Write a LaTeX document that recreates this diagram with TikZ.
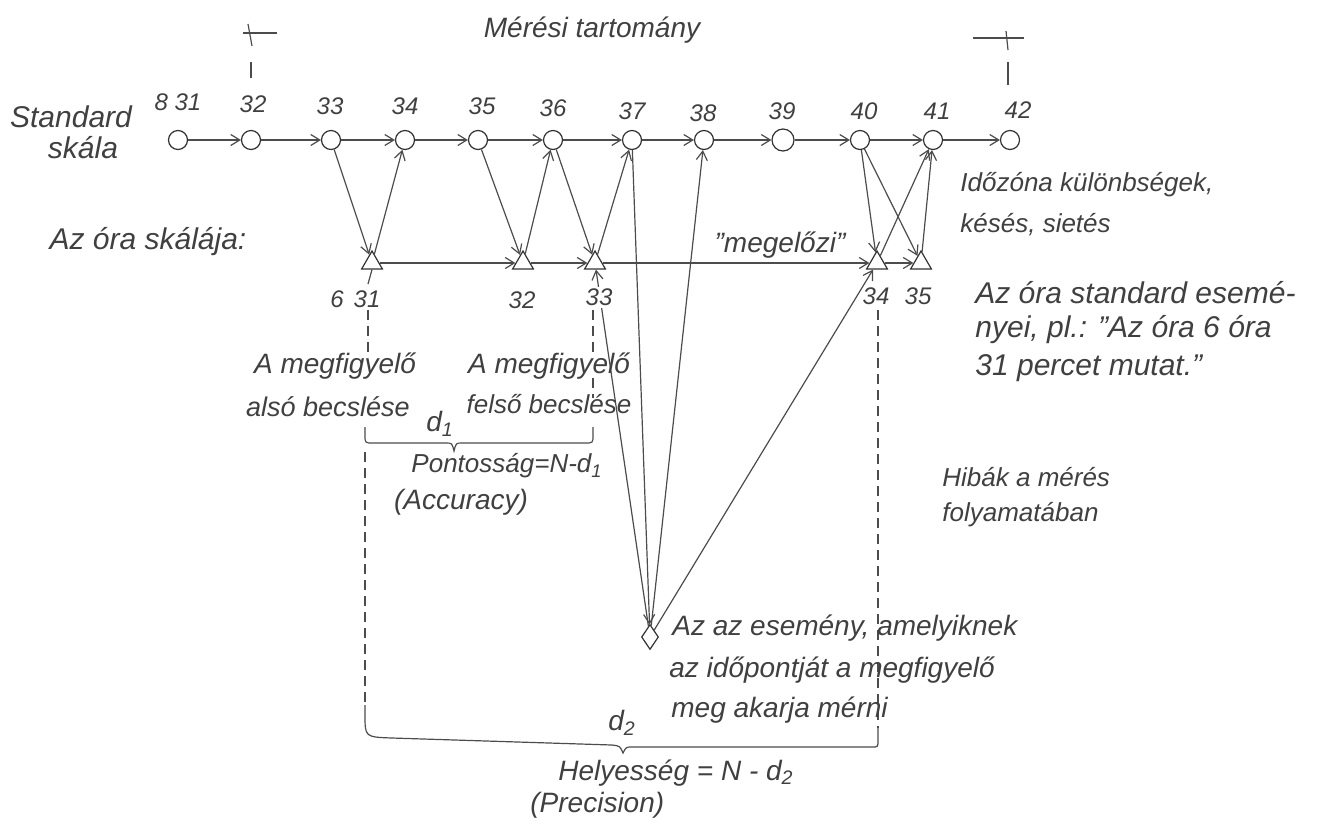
\documentclass[tikz,border=0pt]{standalone}
\usepackage{fontspec}
\setmainfont{Liberation Sans}
\usetikzlibrary{arrows.meta,shapes.geometric}
\newcommand\hsz[1]{\fontsize{#1}{#1}\selectfont}
\begin{document}
\begin{tikzpicture}[x=0.5pt,y=-0.5pt,
  ln/.style={draw=black!70, line width=0.6pt},
  arr/.style={ln, -{Straight Barb[length=4.5pt,width=5.5pt]}},
  stdnode/.style={circle, draw=black!80, line width=0.6pt, fill=white, minimum size=9.5pt, inner sep=0pt},
  clk/.style={regular polygon, regular polygon sides=3, draw=black!80, line width=0.6pt, fill=white, minimum size=12pt, inner sep=0pt},
  ev/.style={diamond, draw=black!80, line width=0.6pt, fill=white, minimum width=8.5pt, minimum height=12.5pt, inner sep=0pt},
  txt/.style={inner sep=0pt, text=black!75, font=\itshape\hsz{14pt}},
  num/.style={inner sep=0pt, text=black!75, font=\itshape\hsz{12pt}},
  dsh/.style={ln, dash pattern=on 5pt off 3pt},
]
\useasboundingbox (0,0) rectangle (1337,820);

% title and left labels
\node[txt] (title) at (592,30) {Mérési tartomány};
\node[txt, font=\itshape\hsz{15pt}] (std1) at (71,117) {Standard};
\node[txt, font=\itshape\hsz{15pt}] (std2) at (83,148) {skála};
\node[txt, font=\itshape\hsz{15pt}] (clock) at (148,242) {Az óra skálája:};

% range markers
\draw[ln] (243,33) -- (277,33);
\draw[ln] (248,24) -- (252,46);
\draw[ln] (251,62) -- (251,78);
\draw[ln] (973,38) -- (1024,38);
\draw[ln] (1006,31) -- (1008,50);
\draw[ln] (1008,62) -- (1008,85);

% standard scale
\node[stdnode] (c1) at (178,140) {};
\node[stdnode] (c2) at (251,140) {};
\node[stdnode] (c3) at (331,140) {};
\node[stdnode] (c4) at (405,140) {};
\node[stdnode] (c5) at (478,140) {};
\node[stdnode] (c6) at (553,140) {};
\node[stdnode] (c7) at (632,140) {};
\node[stdnode] (c8) at (704,140) {};
\node[stdnode, minimum size=11pt] (c9) at (783,140) {};
\node[stdnode] (c10) at (860,140) {};
\node[stdnode] (c11) at (933,140) {};
\node[stdnode] (c12) at (1010,140) {};

\node[num] (l1) at (178,102) {8 31};
\node[num] (l2) at (253,104) {32};
\node[num] (l3) at (330,106) {33};
\node[num] (l4) at (405,106) {34};
\node[num] (l5) at (482,106) {35};
\node[num] (l6) at (553,108) {36};
\node[num] (l7) at (632,111) {37};
\node[num] (l8) at (703,113) {38};
\node[num] (l9) at (782,111) {39};
\node[num] (l10) at (864,111) {40};
\node[num] (l11) at (937,111) {41};
\node[num] (l12) at (1018,110) {42};

\foreach \a/\b in {c1/c2,c2/c3,c3/c4,c4/c5,c5/c6,c6/c7,c7/c8,c8/c9,c9/c10,c10/c11,c11/c12}
  \draw[arr] (\a) -- (\b);

% clock scale
\node[clk] (t1) at (372,263) {};
\node[clk] (t2) at (523,263) {};
\node[clk] (t3) at (595,263) {};
\node[clk] (t4) at (877,263) {};
\node[clk] (t5) at (921,263) {};

\foreach \a/\b in {t1/t2,t2/t3,t3/t4,t4/t5}
  \draw[arr] (\a) -- (\b);

\node[txt] (prec) at (780,245) {"megelőzi"};

% crossing arrows
\foreach \a/\b in {c3/t1,t1/c4,c5/t2,t2/c6,c6/t3,t3/c7,c10/t4,c10/t5,t4/c11,t5/c11}
  \draw[arr] (\a) -- (\b);

% event
\node[ev] (ev) at (650,637) {};
\draw[arr] (c7) -- (ev);
\draw[arr] (ev) -- (c8);
\draw[arr] (ev) -- (t4);
\draw[arr] (ev) -- (t3);

% clock labels (drawn over the lines)
\node[num] (b0) at (337,299) {6};
\node[num] (b1) at (367,299) {31};
\node[num] (b2) at (522,300) {32};
\node[num, fill=white, inner sep=1pt] (b3) at (599,297) {33};
\node[num] (b4) at (876,296) {34};
\node[num] (b5) at (918,296) {35};

% dashed guides
\draw[ln] (t1.south) -- (368,284);
\draw[dsh] (368,310) -- (368,356);
\draw[dsh] (365,452) -- (365,705);
\draw[dsh] (593,310) -- (593,356);
\draw[dsh] (593,378) -- (593,398);
\draw[dsh] (878,310) -- (878,728);

% brace d1
\draw[ln] (365,427) -- (365,435) .. controls (365,443) .. (373,443) -- (446,443)
  .. controls (452,443) .. (454,451) .. controls (456,443) .. (462,443) -- (585,443)
  .. controls (593,443) .. (593,435) -- (593,427);
% brace d2
\draw[ln] (365,705) -- (365,715) .. controls (365,737) .. (392,738) -- (612,745)
  .. controls (620,746) .. (623,753) .. controls (626,747) .. (632,747) -- (872,747)
  .. controls (878,747) .. (878,740) -- (878,728);

% estimate texts
\node[txt] (lo1) at (335,366) {A megfigyelő};
\node[txt, font=\itshape\hsz{13.5pt}] (lo2) at (328,407) {alsó becslése};
\node[txt] (up1) at (549,366) {A megfigyelő};
\node[txt, font=\itshape\hsz{13pt}] (up2) at (549,404) {felső becslése};
\node[txt] (d1) at (440,424) {d\textsubscript{1}};
\node[txt, font=\itshape\hsz{13pt}] (acc1) at (507,466) {Pontosság=N-d\textsubscript{1}};
\node[txt] (acc2) at (461,502) {(Accuracy)};

% right texts
\node[txt, font=\itshape\hsz{13pt}, anchor=west] (tz1) at (960,185) {Időzóna különbségek,};
\node[txt, font=\itshape\hsz{13pt}, anchor=west] (tz2) at (960,225) {késés, sietés};
\node[txt, font=\itshape\hsz{15pt}, anchor=west] (se1) at (975,293) {Az óra standard esemé-};
\node[txt, font=\itshape\hsz{15pt}, anchor=west] (se2) at (975,330) {nyei, pl.: "Az óra 6 óra};
\node[txt, font=\itshape\hsz{15pt}, anchor=west] (se3) at (975,368) {31 percet mutat."};
\node[txt, font=\itshape\hsz{13pt}, anchor=west] (err1) at (942,477) {Hibák a mérés};
\node[txt, font=\itshape\hsz{13pt}, anchor=west] (err2) at (942,515) {folyamatában};

% event texts
\node[txt, anchor=west] (e1) at (672,628) {Az az esemény, amelyiknek};
\node[txt, anchor=west] (e2) at (669,670) {az időpontját a megfigyelő};
\node[txt, anchor=west] (e3) at (671,710) {meg akarja mérni};

\node[txt] (d2) at (622,723) {d\textsubscript{2}};
\node[txt, anchor=west] (h1) at (558,773) {Helyesség = N - d\textsubscript{2}};
\node[txt, anchor=west] (h2) at (530,805) {(Precision)};
\end{tikzpicture}
\end{document}
